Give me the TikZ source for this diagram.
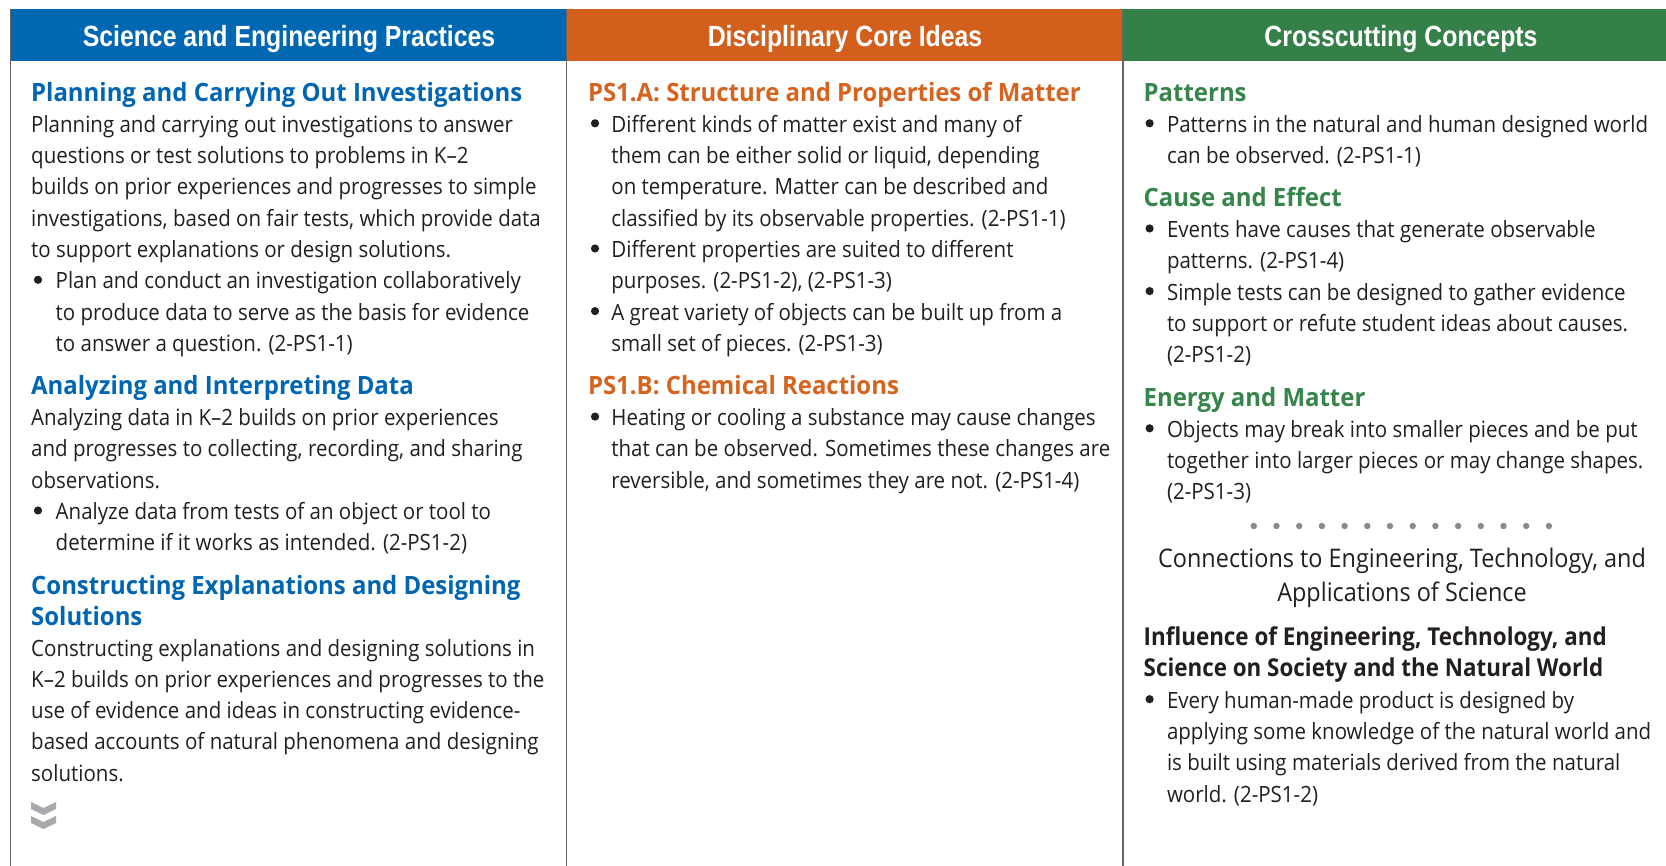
\documentclass[tikz,border=0pt]{standalone}
\usepackage{fontspec}
\setmainfont{Open Sans}[FakeStretch=0.915, BoldFeatures={FakeStretch=0.95}]
\newfontfamily\hdfam{Liberation Sans}[FakeStretch=0.85]
\newfontfamily\infam{Open Sans Bold}[FakeStretch=0.91]
\definecolor{blueH}{HTML}{0067B2}
\definecolor{orangeH}{HTML}{D25F1C}
\definecolor{greenH}{HTML}{357F48}
\definecolor{blueT}{HTML}{0066B3}
\definecolor{orangeT}{HTML}{D6641F}
\definecolor{greenT}{HTML}{36854A}
\definecolor{ink}{HTML}{231F20}
\definecolor{rulegray}{HTML}{666666}
\definecolor{dotgray}{HTML}{8A8A8A}
\definecolor{chevgray}{HTML}{A7A9AC}
\newcommand\bodyfnt{\fontsize{11.2pt}{13pt}\selectfont}
\newcommand\secfnt{\fontsize{12.6pt}{14pt}\selectfont\bfseries}
\newcommand\inffnt{\infam\fontsize{12.3pt}{14pt}\selectfont}
\newcommand\colfnt{\hdfam\fontsize{14.6pt}{16pt}\selectfont\bfseries}
\newcommand\connfnt{\fontsize{12.8pt}{14pt}\selectfont}
\tikzset{
  bodytxt/.style={anchor=west, inner sep=0pt, text height=8pt, text depth=0pt, font=\bodyfnt, text=ink},
  sectxt/.style={anchor=west, inner sep=0pt, text height=9pt, text depth=0pt, font=\secfnt},
  inftxt/.style={anchor=west, inner sep=0pt, text height=9pt, text depth=0pt, font=\inffnt, text=ink},
  coltxt/.style={anchor=center, inner sep=0pt, text height=10.4pt, text depth=0pt, font=\colfnt, text=white},
  conntxt/.style={anchor=center, inner sep=0pt, text height=9pt, text depth=0pt, font=\connfnt, text=ink},
  rule/.style={draw=rulegray, line width=0.85pt},
  bul/.style={fill=ink},
}
\newcommand\bdot[2]{\fill[bul] (#1,#2-1) circle[radius=2.05pt];}
\begin{document}
\begin{tikzpicture}[x=0.5pt,y=-0.5pt]
\useasboundingbox (0,0) rectangle (1666,866);
\fill[white] (0,0) rectangle (1666,866);
% headers
\fill[blueH] (10.6,9) rectangle (566.5,61);
\fill[orangeH] (566.5,9) rectangle (1123,61);
\fill[greenH] (1123,9) rectangle (1666,61);
\node[coltxt] (h1) at (289,36) {Science and Engineering Practices};
\node[coltxt] (h2) at (845,36) {Disciplinary Core Ideas};
\node[coltxt] (h3) at (1401,36) {Crosscutting Concepts};
% rules
\draw[rule] (10.6,9) -- (10.6,866);
\draw[rule] (566.5,9) -- (566.5,866);
\draw[rule] (1123,9) -- (1123,866);

% ---------- column 1
\node[sectxt, text=blueT] (s1) at (30.8,92.4) {Planning and Carrying Out Investigations};
\node[bodytxt] (a1) at (30.8,124.3) {Planning and carrying out investigations to answer};
\node[bodytxt] (a2) at (30.8,155.6) {questions or test solutions to problems in K–2};
\node[bodytxt] (a3) at (30.8,186.9) {builds on prior experiences and progresses to simple};
\node[bodytxt] (a4) at (30.8,218.2) {investigations, based on fair tests, which provide data};
\node[bodytxt] (a5) at (30.8,249.5) {to support explanations or design solutions.};
\bdot{38}{280.8}
\node[bodytxt] (a6) at (55.3,280.8) {Plan and conduct an investigation collaboratively};
\node[bodytxt] (a7) at (55.3,312.1) {to produce data to serve as the basis for evidence};
\node[bodytxt] (a8) at (55.3,343.4) {to answer a question. (2-PS1-1)};
\node[sectxt, text=blueT] (s2) at (30.8,385.7) {Analyzing and Interpreting Data};
\node[bodytxt] (a9) at (30.8,417.6) {Analyzing data in K–2 builds on prior experiences};
\node[bodytxt] (a10) at (30.8,448.9) {and progresses to collecting, recording, and sharing};
\node[bodytxt] (a11) at (30.8,480.2) {observations.};
\bdot{38}{511.5}
\node[bodytxt] (a12) at (55.3,511.5) {Analyze data from tests of an object or tool to};
\node[bodytxt] (a13) at (55.3,542.8) {determine if it works as intended. (2-PS1-2)};
\node[sectxt, text=blueT] (s3) at (30.8,585.4) {Constructing Explanations and Designing};
\node[sectxt, text=blueT] (s3b) at (30.8,616.7) {Solutions};
\node[bodytxt] (a14) at (30.8,648) {Constructing explanations and designing solutions in};
\node[bodytxt] (a15) at (30.8,679.3) {K–2 builds on prior experiences and progresses to the};
\node[bodytxt] (a16) at (30.8,710.6) {use of evidence and ideas in constructing evidence-};
\node[bodytxt] (a17) at (30.8,741.9) {based accounts of natural phenomena and designing};
\node[bodytxt] (a18) at (30.8,773.2) {solutions.};
\fill[chevgray] (31,802) -- (43.5,808) -- (56,802) -- (56,809) -- (43.5,815) -- (31,809) -- cycle;
\fill[chevgray] (31,816) -- (43.5,822) -- (56,816) -- (56,823) -- (43.5,829) -- (31,823) -- cycle;

% ---------- column 2
\node[sectxt, text=orangeT] (s4) at (587.6,92.4) {PS1.A: Structure and Properties of Matter};
\bdot{595}{124.3}
\node[bodytxt] (b1) at (611,124.3) {Different kinds of matter exist and many of};
\node[bodytxt] (b2) at (611,155.6) {them can be either solid or liquid, depending};
\node[bodytxt] (b3) at (611,186.9) {on temperature. Matter can be described and};
\node[bodytxt] (b4) at (611,218.2) {classified by its observable properties. (2-PS1-1)};
\bdot{595}{249.5}
\node[bodytxt] (b5) at (611,249.5) {Different properties are suited to different};
\node[bodytxt] (b6) at (611,280.8) {purposes. (2-PS1-2), (2-PS1-3)};
\bdot{595}{312.1}
\node[bodytxt] (b7) at (611,312.1) {A great variety of objects can be built up from a};
\node[bodytxt] (b8) at (611,343.4) {small set of pieces. (2-PS1-3)};
\node[sectxt, text=orangeT] (s5) at (587.6,385.7) {PS1.B: Chemical Reactions};
\bdot{595}{417.6}
\node[bodytxt] (b9) at (611,417.6) {Heating or cooling a substance may cause changes};
\node[bodytxt] (b10) at (611,448.9) {that can be observed. Sometimes these changes are};
\node[bodytxt] (b11) at (611,480.2) {reversible, and sometimes they are not. (2-PS1-4)};

% ---------- column 3
\node[sectxt, text=greenT] (s6) at (1143.3,92.4) {Patterns};
\bdot{1149.6}{124.3}
\node[bodytxt] (c1) at (1166.6,124.3) {Patterns in the natural and human designed world};
\node[bodytxt] (c2) at (1166.6,155.6) {can be observed. (2-PS1-1)};
\node[sectxt, text=greenT] (s7) at (1143.3,197.6) {Cause and Effect};
\bdot{1149.6}{229.5}
\node[bodytxt] (c3) at (1166.6,229.5) {Events have causes that generate observable};
\node[bodytxt] (c4) at (1166.6,260.8) {patterns. (2-PS1-4)};
\bdot{1149.6}{292.1}
\node[bodytxt] (c5) at (1166.6,292.1) {Simple tests can be designed to gather evidence};
\node[bodytxt] (c6) at (1166.6,323.4) {to support or refute student ideas about causes.};
\node[bodytxt] (c7) at (1166.6,354.7) {(2-PS1-2)};
\node[sectxt, text=greenT] (s8) at (1143.3,397.4) {Energy and Matter};
\bdot{1149.6}{429.3}
\node[bodytxt] (c8) at (1166.6,429.3) {Objects may break into smaller pieces and be put};
\node[bodytxt] (c9) at (1166.6,460.6) {together into larger pieces or may change shapes.};
\node[bodytxt] (c10) at (1166.6,491.9) {(2-PS1-3)};
\foreach \i in {0,...,13} \fill[dotgray] (1253.8+22.7*\i,526) circle[radius=1.6pt];
\node[conntxt] (k1) at (1402,558.9) {Connections to Engineering, Technology, and};
\node[conntxt] (k2) at (1402,592.9) {Applications of Science};
\node[inftxt] (s9) at (1143.3,636.4) {Influence of Engineering, Technology, and};
\node[inftxt] (s9b) at (1143.3,667.3) {Science on Society and the Natural World};
\bdot{1149.6}{700.2}
\node[bodytxt] (c11) at (1166.6,700.2) {Every human-made product is designed by};
\node[bodytxt] (c12) at (1166.6,731.5) {applying some knowledge of the natural world and};
\node[bodytxt] (c13) at (1166.6,762.8) {is built using materials derived from the natural};
\node[bodytxt] (c14) at (1166.6,794.1) {world. (2-PS1-2)};
\end{tikzpicture}
\end{document}
